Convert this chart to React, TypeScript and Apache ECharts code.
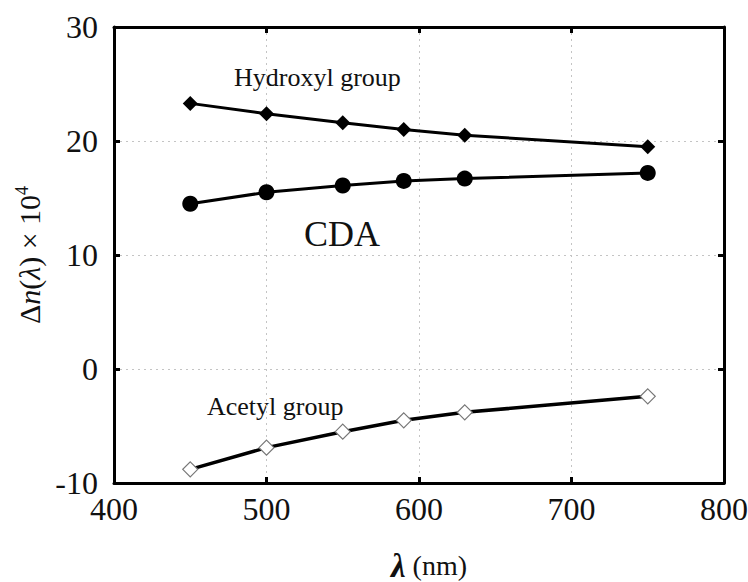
import React, { useEffect, useRef } from "react";
import * as echarts from "echarts";

const wavelengths = [450, 500, 550, 590, 630, 750];
const hydroxyl = [23.3, 22.4, 21.6, 21.0, 20.5, 19.5];
const cda = [14.5, 15.5, 16.1, 16.5, 16.7, 17.2];
const acetyl = [-8.8, -6.9, -5.5, -4.5, -3.8, -2.4];

const FONT = "'Liberation Serif', 'DejaVu Serif', serif";

export default function App() {
  const ref = useRef<HTMLDivElement>(null);
  useEffect(() => {
    if (!ref.current) return;
    const chart = echarts.init(ref.current, null, { renderer: "svg" });
    const pair = (ys: number[]) => wavelengths.map((x, i) => [x, ys[i]]);
    const grid = { left: 114, right: 24, top: 27, bottom: 99, containLabel: false, outerBoundsMode: "none" };
    const splitLine = { show: true, lineStyle: { color: "#c4c4c4", type: [2, 4] as any, width: 1 } };
    chart.setOption({
      animation: false,
      backgroundColor: "#fff",
      grid,
      xAxis: [
        {
          type: "value", min: 400, max: 800, interval: 100,
          axisLine: { show: true, onZero: false, lineStyle: { color: "#000", width: 3 } },
          axisTick: { show: true, inside: true, length: 6, lineStyle: { color: "#000", width: 3 } },
          axisLabel: { fontFamily: FONT, fontSize: 32, color: "#111", margin: 10 },
          splitLine,
          name: "{l|λ} (nm)",
          nameLocation: "middle",
          nameGap: 66,
          nameTextStyle: {
            fontFamily: FONT, fontSize: 28, color: "#111", padding: [0, 0, 0, 20],
            rich: { l: { fontFamily: FONT, fontSize: 33, fontStyle: "italic", fontWeight: "bold", color: "#111" } },
          },
        },
        {
          type: "value", min: 400, max: 800, interval: 100, position: "top",
          axisLine: { show: true, onZero: false, lineStyle: { color: "#000", width: 3 } },
          axisTick: { show: true, inside: true, length: 6, lineStyle: { color: "#000", width: 3 } },
          axisLabel: { show: false },
          splitLine: { show: false },
        },
      ],
      yAxis: [
        {
          type: "value", min: -10, max: 30, interval: 10,
          axisLine: { show: true, onZero: false, lineStyle: { color: "#000", width: 3 } },
          axisTick: { show: true, inside: true, length: 6, lineStyle: { color: "#000", width: 3 } },
          axisLabel: { fontFamily: FONT, fontSize: 32, color: "#111", margin: 16 },
          splitLine,
          name: "{d|Δ}{n|n}{d|(}{l|λ}{d|) × 10}{s|4}",
          nameLocation: "middle",
          nameRotate: 90,
          nameGap: 66,
          nameTextStyle: {
            fontFamily: FONT, fontSize: 30, color: "#111",
            rich: {
              d: { fontFamily: FONT, fontSize: 30, color: "#111" },
              n: { fontFamily: FONT, fontSize: 30, fontStyle: "italic", color: "#111" },
              l: { fontFamily: FONT, fontSize: 30, fontStyle: "italic", color: "#111" },
              s: { fontFamily: FONT, fontSize: 18, color: "#111", verticalAlign: "top", padding: [0, 0, 14, 0] },
            },
          },
        },
        {
          type: "value", min: -10, max: 30, interval: 10, position: "right",
          axisLine: { show: true, onZero: false, lineStyle: { color: "#000", width: 3 } },
          axisTick: { show: true, inside: true, length: 6, lineStyle: { color: "#000", width: 3 } },
          axisLabel: { show: false },
          splitLine: { show: false },
        },
      ],
      series: [
        {
          name: "Hydroxyl group", type: "line", data: pair(hydroxyl),
          symbol: "diamond", symbolSize: 15,
          lineStyle: { color: "#000", width: 3 },
          itemStyle: { color: "#000" },
        },
        {
          name: "CDA", type: "line", data: pair(cda),
          symbol: "circle", symbolSize: 16,
          lineStyle: { color: "#000", width: 3 },
          itemStyle: { color: "#000" },
        },
        {
          name: "Acetyl group", type: "line", data: pair(acetyl),
          symbol: "diamond", symbolSize: 15,
          lineStyle: { color: "#000", width: 3.5 },
          itemStyle: { color: "#fff", borderColor: "#777", borderWidth: 1.2 },
          z: 3,
        },
      ],
      graphic: [
        { type: "text", left: 234, top: 64, style: { text: "Hydroxyl group", font: `26px 'Liberation Serif', serif`, fill: "#111" } },
        { type: "text", left: 304, top: 216, style: { text: "CDA", font: `36px 'Liberation Serif', serif`, fill: "#111" } },
        { type: "text", left: 207, top: 393, style: { text: "Acetyl group", font: `26px 'Liberation Serif', serif`, fill: "#111" } },
      ],
    });
    return () => chart.dispose();
  }, []);
  return <div ref={ref} style={{ width: 748, height: 582, position: "absolute", left: 0, top: 0 }} />;
}
